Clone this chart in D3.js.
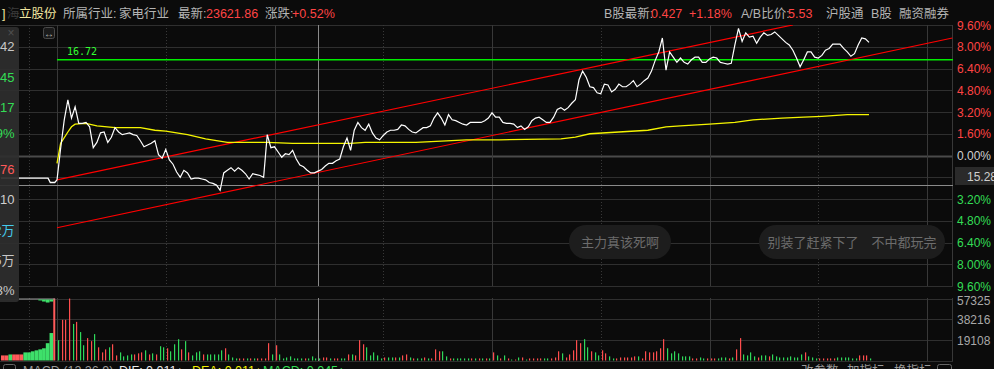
<!DOCTYPE html>
<html>
<head>
<meta charset="utf-8">
<script src="https://cdn.jsdelivr.net/npm/d3@7"></script>
<style>
  html, body { margin: 0; padding: 0; background: #0b0b0b; overflow: hidden; }
  svg { display: block; font-family: "Liberation Sans", Arial, "Noto Sans CJK SC", sans-serif; }
</style>
</head>
<body>
<svg id="chart" width="994" height="369"></svg>
<script>
// ---- data ----
const prevClose = 15.62
const linePrice = 16.72
const cursorMinute = 72
const cursorPrice = 15.28

// one price per minute from 9:30
const prices = [
  15.34,15.70,16.03,16.26,16.05,16.18,15.99,15.99,16.00,15.95,
  15.71,15.77,15.88,15.89,15.77,15.83,15.94,15.89,15.86,15.87,
  15.88,15.86,15.85,15.79,15.72,15.74,15.76,15.79,15.63,15.59,
  15.69,15.57,15.52,15.43,15.37,15.45,15.42,15.35,15.36,15.36,
  15.35,15.34,15.31,15.30,15.28,15.22,15.42,15.45,15.48,15.44,
  15.48,15.45,15.41,15.35,15.41,15.40,15.39,15.37,15.86,15.71,
  15.72,15.66,15.60,15.64,15.63,15.68,15.58,15.51,15.49,15.45,
  15.42,15.42,15.44,15.46,15.50,15.53,15.53,15.56,15.58,15.72,
  15.82,15.68,15.91,16.00,15.94,15.91,15.98,15.88,15.82,15.80,
  15.85,15.89,15.91,15.91,15.92,15.97,15.96,15.92,15.89,15.88,
  15.91,15.94,15.94,15.96,16.05,16.11,16.05,15.97,16.09,16.03,
  16.02,16.00,15.98,15.97,16.00,16.00,16.00,16.00,16.02,16.05,
  16.11,16.06,16.06,16.00,15.99,15.99,15.98,15.94,15.96,15.92,
  15.95,16.02,16.05,16.06,16.03,16.00,16.00,16.06,16.15,16.17,
  16.14,16.17,16.22,16.26,16.49,16.59,16.52,16.41,16.40,16.34,
  16.33,16.44,16.43,16.35,16.38,16.44,16.41,16.41,16.44,16.48,
  16.41,16.44,16.48,16.51,16.59,16.71,16.81,16.97,16.60,16.81,
  16.75,16.69,16.74,16.69,16.67,16.72,16.75,16.75,16.69,16.69,
  16.73,16.75,16.74,16.69,16.68,16.67,16.68,16.89,17.08,16.93,
  17.03,16.98,16.99,16.91,16.98,17.03,17.00,17.01,17.04,17.00,
  16.96,16.92,16.89,16.83,16.74,16.64,16.72,16.81,16.81,16.75,
  16.74,16.77,16.83,16.85,16.90,16.90,16.90,16.85,16.81,16.76,
  16.79,16.89,16.97,16.96,16.92
]

// average price line (minute, price)
const avgMinutes = [0,1,3,4,5,8,11,16,23,27,30,36,41,47,58,65,81,85,99,113,122,139,143,147,155,163,168,172,180,187,192,200,206,211,218,224]
const avgPrices  = [15.53,15.76,15.89,15.95,15.98,15.99,15.96,15.94,15.94,15.91,15.90,15.86,15.81,15.77,15.77,15.76,15.76,15.77,15.77,15.80,15.80,15.81,15.83,15.87,15.89,15.91,15.95,15.96,15.98,16.00,16.03,16.05,16.06,16.07,16.09,16.09]

// call auction 9:15-9:25 (minutes before open)
const preMinutes = [-10,-1.6,-1.2,-0.4,0]
const prePrices  = [15.36,15.36,15.31,15.31,15.34]
const preVol     = [4700,4700,5600,5600,5600,5600,7500,7500,8500,9400,10300,11300,16000,25400,57300]
const preVolDir  = "rrgrrrggggggggr"
const preUnmatched = [0,0,0,0,0,0,0,0,0,0,900,1900,2800,1900,0]

// volume per minute and bar colour (r up / g down)
const volumes = [
  18800,37600,37600,57300,33800,35700,26300,14100,20700,17900,
  24400,12200,7500,10300,12200,15000,4700,7500,3800,4700,
  5600,5600,6600,7500,9400,5600,6600,5600,13200,12200,
  11300,8500,15000,19700,10300,17900,7500,4700,7500,8500,
  5600,5600,5600,5600,5600,9400,11300,5600,2800,1900,
  1900,1900,1900,1900,1900,1900,1900,1900,16000,5600,
  14100,5600,1900,2800,3800,1900,1900,1900,1900,1900,
  3800,1900,1900,2800,2800,1900,1900,1900,1900,1900,
  5600,5600,4700,18800,15000,12200,4700,7500,4700,1900,
  2800,2800,2800,2800,2800,4700,5600,2800,1900,1900,
  1900,2800,1900,1900,10300,8500,8500,3800,1900,1900,
  1900,1900,1900,1900,1900,1900,1900,1900,1900,1900,
  7500,4700,1900,4700,1900,900,900,2800,2800,900,
  1900,1900,1900,1900,1900,1900,1900,2800,8500,6600,
  2800,5600,9400,18800,16000,19700,12200,8500,7500,4700,
  9400,6600,3800,1900,1900,2800,2800,2800,2800,3800,
  3800,1900,8500,7500,7500,8500,11300,19700,11300,6600,
  8500,6600,3800,3800,3800,1900,1900,2800,1900,1900,
  1900,1900,1900,2800,2800,1900,2800,10300,20700,5600,
  4700,7500,3800,2800,4700,4700,3800,5600,3800,2800,
  2800,2800,3800,2800,2800,5600,7500,3800,2800,1900,
  1900,1900,1900,1900,1900,2800,2800,2800,2800,1900,
  1900,4700,4700,4700,1900
]
const volDir =
  "grrrgrggrr" + "grrrgrrggg" + "grrrgrgrgg" + "rgggrgrggg" + "rgggggrggg" +
  "rrgrgrrrrg" + "rgggggggrg" + "gggrrgrrgg" + "rgrrrggggg" + "rggrgrrgrg" +
  "grgrrrggrg" + "ggggrgrgrg" + "rgrgrgrgrg" + "rrrrggrrrg" + "rrrrrggrgg" +
  "rrggrrrrrr" + "grrrrrrrgg" + "gggggrrggr" + "rrgggrgrrg" + "gggrggrggg" +
  "ggggggrggg" + "rrrrrggggg" + "grrrg"

// drawn channel lines (minute, price)
const trendUpper = [[0, 15.34], [203, 17.12]]
const trendLower = [[0, 14.79], [247, 16.97]]

// axis ticks
const pctTicks = [9.6, 8, 6.4, 4.8, 3.2, 1.6, 0, -1.6, -3.2, -4.8, -6.4, -8, -9.6]
const volTicks = [57325, 38216, 19108]
const hourMinutes = [0, 60, 120, 180, 240]
const halfMinutes = [30, 90, 150, 210]

// ---- colours ----
const red = "#ff4444", green = "#33dd55", gridC = "#2f2f2f"

const svg = d3.select("#chart")

const x = d3.scaleLinear().domain([0, 240]).range([57, 927])
const xPre = d3.scaleLinear().domain([-10, 0]).range([1, 57])
const yPct = d3.scaleLinear().domain([-9.6, 9.6]).range([286, 25])
const yPrice = d3.scaleLinear().domain([prevClose * (1 - 0.096), prevClose * (1 + 0.096)]).range([286, 25])
const yVol = d3.scaleLinear().domain([0, 57325]).range([360.5, 298.5])
const px = v => Math.round(v) + 0.5

svg.append("defs").append("clipPath").attr("id", "mainClip")
  .append("rect").attr("x", 0).attr("y", 25).attr("width", 953).attr("height", 261)

// ---- grid ----
const g = svg.append("g")
g.selectAll(".h").data(pctTicks).join("line")
  .attr("x1", 0).attr("x2", 953)
  .attr("y1", d => px(yPct(d))).attr("y2", d => px(yPct(d)))
  .attr("stroke", d => d === 0 ? "#4a4a4a" : gridC)
  .attr("stroke-width", d => d === 0 ? 2 : 1)

g.selectAll(".hv").data(volTicks.concat([0])).join("line")
  .attr("x1", 0).attr("x2", 953)
  .attr("y1", d => px(yVol(d))).attr("y2", d => px(yVol(d)))
  .attr("stroke", gridC)

const panels = [[25, 286], [298, 361]]
panels.forEach(([t, b]) => {
  g.selectAll(null).data(hourMinutes).join("line")
    .attr("x1", d => px(x(d))).attr("x2", d => px(x(d)))
    .attr("y1", t).attr("y2", b).attr("stroke", "#383838")
  g.selectAll(null).data(halfMinutes).join("line")
    .attr("x1", d => px(x(d))).attr("x2", d => px(x(d)))
    .attr("y1", t).attr("y2", b).attr("stroke", "#383838").attr("stroke-dasharray", "1,2")
  g.append("line").attr("x1", px(xPre(-5))).attr("x2", px(xPre(-5)))
    .attr("y1", t).attr("y2", b).attr("stroke", "#383838").attr("stroke-dasharray", "1,2")
  g.append("line").attr("x1", 952.5).attr("x2", 952.5)
    .attr("y1", t).attr("y2", b).attr("stroke", "#383838")
})

// ---- chat bubbles ----
const bubbles = [
  { text: "主力真该死啊", x0: 569, x1: 671 },
  { text: "别装了赶紧下了\u2003不中都玩完", x0: 759, x1: 945 }
]
bubbles.forEach(b => {
  svg.append("rect").attr("x", b.x0).attr("y", 225).attr("width", b.x1 - b.x0).attr("height", 34)
    .attr("rx", 17).attr("fill", "#1d1d1d")
  svg.append("text").attr("x", (b.x0 + b.x1) / 2).attr("y", 247).attr("text-anchor", "middle")
    .attr("font-size", 13).attr("fill", "#6c6c6c").text(b.text)
})

// ---- cursor lines ----
svg.append("line").attr("x1", 0).attr("x2", 953)
  .attr("y1", px(yPrice(cursorPrice))).attr("y2", px(yPrice(cursorPrice))).attr("stroke", "#8a8a8a")
panels.forEach(([t, b]) => {
  svg.append("line").attr("x1", px(x(cursorMinute))).attr("x2", px(x(cursorMinute)))
    .attr("y1", t).attr("y2", b).attr("stroke", "#8a8a8a")
})

// ---- lines in price panel ----
const plot = svg.append("g").attr("clip-path", "url(#mainClip)")

plot.append("line").attr("x1", x(0)).attr("x2", 953)
  .attr("y1", yPrice(linePrice)).attr("y2", yPrice(linePrice))
  .attr("stroke", "#00ee00").attr("stroke-width", 1.4)

const trendLine = d3.line().x(d => x(d[0])).y(d => yPrice(d[1]))
;[trendUpper, trendLower].forEach(t => {
  plot.append("path").attr("d", trendLine(t)).attr("fill", "none")
    .attr("stroke", "#ff0000").attr("stroke-width", 1.2)
})

plot.append("path")
  .attr("d", d3.line().x((d, i) => x(avgMinutes[i])).y(d => yPrice(d))(avgPrices))
  .attr("fill", "none").attr("stroke", "#f5f500").attr("stroke-width", 1.3)

plot.append("path")
  .attr("d", d3.line().x((d, i) => xPre(preMinutes[i])).y(d => yPrice(d))(prePrices))
  .attr("fill", "none").attr("stroke", "#ffffff").attr("stroke-width", 1.3)

plot.append("path")
  .attr("d", d3.line().x((d, i) => x(i)).y(d => yPrice(d))(prices))
  .attr("fill", "none").attr("stroke", "#ffffff").attr("stroke-width", 1.2)

plot.append("text").attr("x", 67).attr("y", 55)
  .attr("font-family", "DejaVu Sans Mono, monospace").attr("font-size", 10)
  .attr("fill", "#33ff33").text(linePrice.toFixed(2))

// ---- volume ----
const preW = (xPre(0) - xPre(-10)) / preVol.length
svg.selectAll(".pv").data(preVol).join("rect")
  .attr("x", (d, i) => xPre(-10) + i * preW)
  .attr("width", (d, i) => i === preVol.length - 1 ? 2 : preW)
  .attr("y", d => yVol(d)).attr("height", d => yVol(0) - yVol(d))
  .attr("fill", (d, i) => preVolDir[i] === "r" ? "#ff5a5a" : "#3ee06a")

// unmatched auction volume hangs from the panel top
svg.append("line").attr("x1", 19).attr("x2", 55).attr("y1", 299).attr("y2", 299).attr("stroke", "#9a9a9a")
svg.selectAll(".pu").data(preUnmatched).join("rect")
  .attr("x", (d, i) => xPre(-10) + i * preW).attr("width", preW)
  .attr("y", 299.5).attr("height", d => yVol(0) - yVol(d))
  .attr("fill", "#3ee06a")

svg.selectAll(".v").data(volumes).join("rect")
  .attr("x", (d, i) => Math.round(x(i)) + 1)
  .attr("width", 1.2)
  .attr("y", d => yVol(d)).attr("height", d => yVol(0) - yVol(d))
  .attr("fill", (d, i) => volDir[i] === "r" ? "#ff4d4d" : "#2fd95a")

// ---- right axis (the -1.60% label sits under the cursor price box) ----
svg.selectAll(".pl").data(pctTicks.filter(d => d !== -1.6)).join("text")
  .attr("x", 957).attr("y", d => yPct(d) + 4.5).attr("font-size", 12)
  .attr("fill", d => d > 0 ? red : d < 0 ? green : "#cfcfcf")
  .text(d => Math.abs(d).toFixed(2) + "%")

svg.append("rect").attr("x", 955).attr("y", 167).attr("width", 40).attr("height", 18).attr("fill", "#2a2a2a")
svg.append("text").attr("x", 967).attr("y", 180.5).attr("font-size", 12).attr("fill", "#cfcfcf")
  .text(cursorPrice.toFixed(2))

svg.selectAll(".vl").data(volTicks).join("text")
  .attr("x", 957).attr("y", (d, i) => yVol(d) + 5 + (i === 0 ? 1 : 0)).attr("font-size", 12)
  .attr("fill", "#a8a8a8").text(d => d)

// ---- header ----
const header = [
  ["]", 2, "#f0e6a0"], ["海", 7, "#3c3c3c"], ["立股份", 19, "#f0e6a0"],
  ["所属行业:", 63, "#b4b4b4"], ["家电行业", 119, "#b4b4b4"],
  ["最新:", 178, "#b4b4b4"], ["23621.86", 206, red],
  ["涨跌:", 265, "#b4b4b4"], ["+0.52%", 292, red],
  ["B股最新:", 604, "#b4b4b4"], ["0.427", 651, red], ["+1.18%", 689, red],
  ["A/B比价:", 741, "#b4b4b4"], ["5.53", 788, red],
  ["沪股通", 826, "#b4b4b4"], ["B股", 871, "#b4b4b4"], ["融资融券", 899, "#b4b4b4"]
]
svg.selectAll(".hd").data(header).join("text")
  .attr("x", d => d[1]).attr("y", 17.5).attr("font-size", 12.5)
  .attr("fill", d => d[2]).text(d => d[0])

// small expand button
svg.append("rect").attr("x", 43.5).attr("y", 27.5).attr("width", 11).attr("height", 11).attr("rx", 2)
  .attr("fill", "#1a1a1a").attr("stroke", "#4a4a4a")
svg.append("text").attr("x", 49).attr("y", 36.5).attr("text-anchor", "middle")
  .attr("font-size", 10).attr("fill", "#bbbbbb").text("↔")

// ---- left floating info panel (mostly cut off) ----
svg.append("clipPath").attr("id", "panelClip")
  .append("rect").attr("x", 0).attr("y", 27).attr("width", 19).attr("height", 275)
const panel = svg.append("g").attr("clip-path", "url(#panelClip)")
panel.append("rect").attr("x", -6).attr("y", 27).attr("width", 25).attr("height", 275).attr("rx", 3)
  .attr("fill", "rgba(46,46,46,0.93)")
panel.append("text").attr("x", 11).attr("y", 37).attr("text-anchor", "middle")
  .attr("font-size", 12).attr("fill", "#505050").text("×")
const panelRows = [
  ["16.42", 46, "#c8c8c8"], ["-0.45", 77, green], ["-0.17", 107, green], ["-1.09%", 133, green],
  ["15.76", 169, "#ff5a5a"], ["15.10", 199, "#d0d0d0"], ["1.2万", 230, "#44ccee"],
  ["3535万", 260, "#c8c8c8"], ["0.23%", 290, "#c8c8c8"]
]
panel.selectAll(".pr").data(panelRows).join("text")
  .attr("x", 14.5).attr("y", d => d[1] + 5).attr("text-anchor", "end")
  .attr("font-size", 13).attr("fill", d => d[2]).text(d => d[0])

// ---- bottom indicator bar (cut off) ----
svg.append("rect").attr("x", 3.5).attr("y", 364.5).attr("width", 12).attr("height", 11).attr("rx", 2)
  .attr("fill", "none").attr("stroke", "#666")
const macd = [
  ["MACD (12,26,9)", 23, "#9a9a9a"], ["DIF: 0.011↓", 119, "#e8e8e8"],
  ["DEA: 0.011↓", 192, "#f0f000"], ["MACD: 0.045↑", 263, "#33dd55"],
  ["改参数", 801, "#9a9a9a"], ["加指标", 847, "#9a9a9a"], ["换指标", 894, "#9a9a9a"]
]
svg.selectAll(".md").data(macd).join("text")
  .attr("x", d => d[1]).attr("y", 375).attr("font-size", 12.5)
  .attr("fill", d => d[2]).text(d => d[0])
svg.append("rect").attr("x", 937.5).attr("y", 364.5).attr("width", 14).attr("height", 11).attr("rx", 2)
  .attr("fill", "none").attr("stroke", "#666")
</script>
</body>
</html>
